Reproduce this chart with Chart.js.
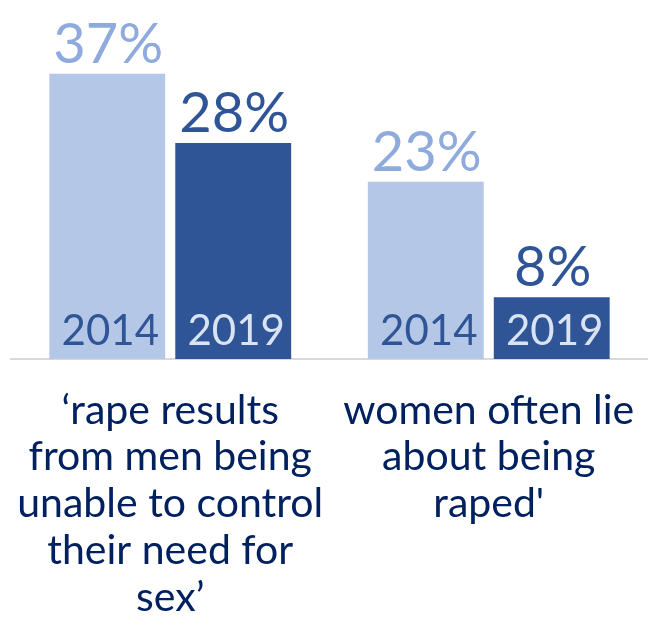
<!DOCTYPE html>
<html>
<head>
<meta charset="utf-8">
<script src="https://cdn.jsdelivr.net/npm/chart.js@4/dist/chart.umd.min.js"></script>
<style>
  html, body { margin: 0; padding: 0; background: #fff; }
  canvas { display: block; }
</style>
</head>
<body>
<canvas id="chart" width="648" height="618"></canvas>
<script>
  /* ===== Data ===== */
  const categories = [
    ['‘rape results', 'from men being', 'unable to control', 'their need for', 'sex’'],
    ['women often lie', 'about being', "raped'"]
  ];
  const years = ['2014', '2019'];
  const values2014 = [37, 23];
  const values2019 = [28, 8];

  /* ===== Style ===== */
  const FONT = 'Lato, "Open Sans", sans-serif';
  const BAR_COLORS = ['#B4C7E7', '#2F5597'];
  const VALUE_COLORS = ['#8FAADC', '#2F5597'];
  const YEAR_COLORS = ['#2F5597', '#DAE3F3'];
  const TEXT_DARK = '#002060';

  // value above each bar, year written inside at its foot
  const barLabels = {
    id: 'barLabels',
    afterDatasetsDraw(chart) {
      const ctx = chart.ctx;
      ctx.save();
      ctx.textAlign = 'center';
      ctx.textBaseline = 'alphabetic';
      chart.data.datasets.forEach((ds, i) => {
        const meta = chart.getDatasetMeta(i);
        meta.data.forEach((bar, j) => {
          ctx.font = '56px ' + FONT;
          ctx.fillStyle = VALUE_COLORS[i];
          ctx.fillText(ds.data[j] + '%', bar.x + 1, bar.y - 11);
          ctx.font = '42px ' + FONT;
          ctx.fillStyle = YEAR_COLORS[i];
          ctx.fillText(ds.label, bar.x + 3, bar.base - 14);
        });
      });
      ctx.restore();
    }
  };

  new Chart(document.getElementById('chart'), {
    type: 'bar',
    data: {
      labels: categories,
      datasets: [
        { label: years[0], data: values2014, backgroundColor: BAR_COLORS[0] },
        { label: years[1], data: values2019, backgroundColor: BAR_COLORS[1] }
      ]
    },
    options: {
      responsive: false,
      animation: false,
      devicePixelRatio: 1,
      layout: { padding: { left: 11, right: 0, top: 12, bottom: 0 } },
      datasets: {
        bar: { categoryPercentage: 0.791, barPercentage: 0.92 }
      },
      plugins: {
        legend: { display: false },
        tooltip: { enabled: false }
      },
      scales: {
        y: { display: false, min: 0, max: 45 },
        x: {
          // fixed axis height, and don't let the wide labels squeeze the plot
          afterFit: s => {
            s.height = 259;
            s.paddingLeft = 0;
            s.paddingRight = 0;
          },
          grid: { display: false, drawTicks: false },
          border: { display: true, color: '#D9D9D9', width: 2 },
          ticks: {
            color: TEXT_DARK,
            padding: 28,
            maxRotation: 0,
            autoSkip: false,
            font: { family: FONT, size: 41, lineHeight: 1.14 }
          }
        }
      }
    },
    plugins: [barLabels]
  });
</script>
</body>
</html>
